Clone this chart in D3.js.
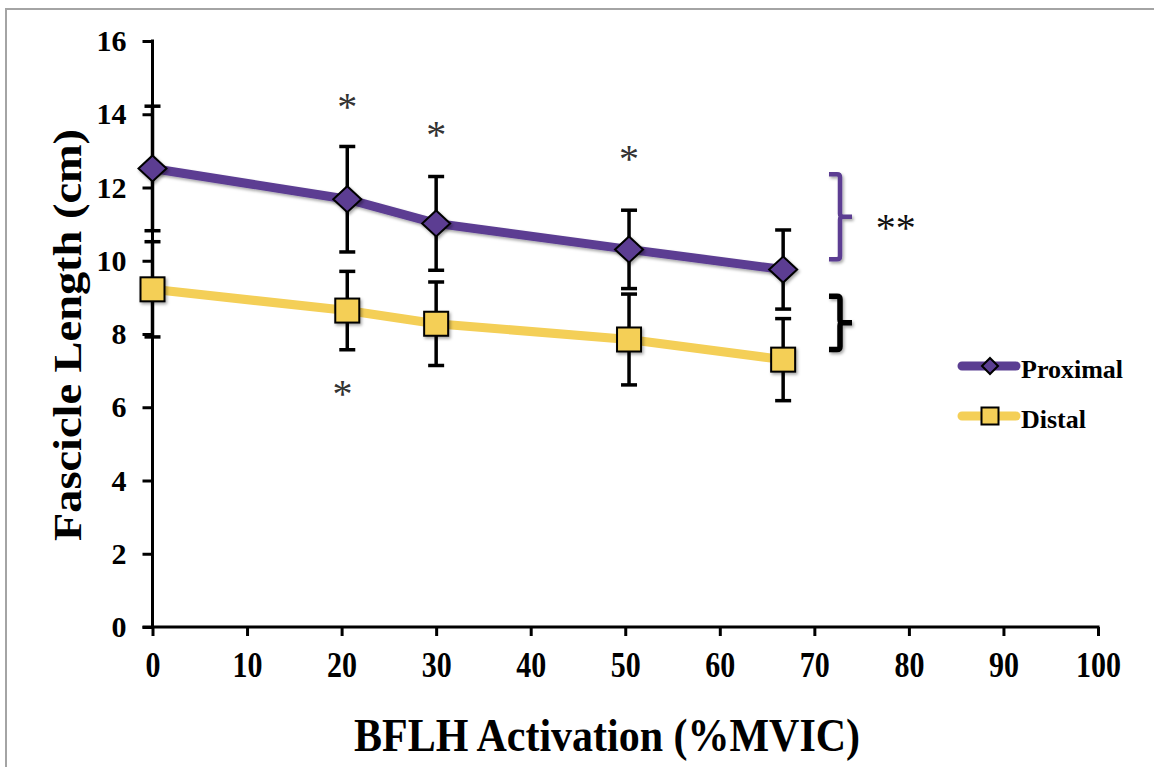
<!DOCTYPE html>
<html>
<head>
<meta charset="utf-8">
<script src="https://cdn.jsdelivr.net/npm/d3@7"></script>
<style>
  body { margin: 0; background: #fff; }
  text { font-family: "Liberation Serif", "Times New Roman", serif; }
</style>
</head>
<body>
<div id="chart"></div>
<script>
// values
var activation = [0, 20.6, 30, 50.4, 66.7];
var proximal = [12.52, 11.68, 11.02, 10.31, 9.76];
var proximalSD = [1.7, 1.44, 1.28, 1.07, 1.08];
var distal = [9.22, 8.64, 8.28, 7.85, 7.3];
var distalSD = [1.3, 1.07, 1.14, 1.24, 1.12];
var xTicks = [0, 10, 20, 30, 40, 50, 60, 70, 80, 90, 100];
var yTicks = [0, 2, 4, 6, 8, 10, 12, 14, 16];
var seriesNames = ["Proximal", "Distal"];
// single stars: [x, y] in data units
var starsX = [20.6, 30, 50.4, 20.1];
var starsY = [14.45, 13.68, 13.03, 6.62];
// braces: [top, bottom] in cm
var braceTop = [12.36, 9.03];
var braceBottom = [10.04, 7.58];

var W = 1154, H = 767;
var purple = "#5b3e92", yellow = "#f4cf57";

var svg = d3.select("#chart").append("svg")
    .attr("width", W)
    .attr("height", H);

var defs = svg.append("defs");
defs.append("filter").attr("id", "shadow")
    .attr("x", "-30%").attr("y", "-30%").attr("width", "160%").attr("height", "160%")
  .append("feDropShadow")
    .attr("dx", 1.5).attr("dy", 2).attr("stdDeviation", 1.5)
    .attr("flood-color", "#000").attr("flood-opacity", 0.35);

// outer frame
svg.append("rect")
    .attr("x", 6).attr("y", 9)
    .attr("width", W + 20).attr("height", H + 20)
    .attr("fill", "none")
    .attr("stroke", "#a4a4a4")
    .attr("stroke-width", 2);

var x = d3.scaleLinear().domain([0, 100]).range([152.5, 1098]);
var y = d3.scaleLinear().domain([0, 16]).range([627, 41]);

// y axis
var yAxis = svg.append("g")
    .attr("transform", "translate(" + x(0) + ",0)")
    .call(d3.axisLeft(y).tickValues(yTicks).tickSize(10).tickPadding(16).tickSizeOuter(0));
yAxis.select(".domain").remove();
yAxis.selectAll(".tick line").attr("stroke", "#000").attr("stroke-width", 3);
yAxis.selectAll(".tick text")
    .attr("font-size", 30).attr("font-weight", "bold").attr("fill", "#000")
    .attr("font-family", "Liberation Serif");
yAxis.append("line")
    .attr("x1", 0).attr("x2", 0)
    .attr("y1", y(16) - 1.5).attr("y2", y(0))
    .attr("stroke", "#000").attr("stroke-width", 3);

// x axis
var xAxis = svg.append("g")
    .attr("transform", "translate(0," + y(0) + ")")
    .call(d3.axisBottom(x).tickValues(xTicks).tickSize(9).tickSizeOuter(0));
xAxis.select(".domain").remove();
xAxis.selectAll(".tick line").attr("stroke", "#000").attr("stroke-width", 3);
xAxis.selectAll(".tick text")
    .attr("y", 42.5).attr("dy", 0)
    .attr("transform", "scale(1,1.18)")
    .attr("font-size", 30).attr("font-weight", "bold").attr("fill", "#000")
    .attr("font-family", "Liberation Serif");
xAxis.append("line")
    .attr("x1", x(0) - 10).attr("x2", x(100) + 1.5)
    .attr("y1", 0).attr("y2", 0)
    .attr("stroke", "#000").attr("stroke-width", 3);

// axis titles
svg.append("text")
    .attr("transform", "translate(607,751) scale(1,1.1)")
    .attr("text-anchor", "middle")
    .attr("font-size", 42).attr("font-weight", "bold")
    .text("BFLH Activation (%MVIC)");

svg.append("text")
    .attr("transform", "translate(81,335) rotate(-90) scale(1.16,1)")
    .attr("text-anchor", "middle")
    .attr("font-size", 40).attr("font-weight", "bold")
    .text("Fascicle Length (cm)");

var proxData = activation.map(function(a, i) { return {x: a, y: proximal[i], sd: proximalSD[i]}; });
var distData = activation.map(function(a, i) { return {x: a, y: distal[i], sd: distalSD[i]}; });

var line = d3.line()
    .x(function(d) { return x(d.x); })
    .y(function(d) { return y(d.y); });

svg.append("path").datum(distData)
    .attr("d", line)
    .attr("fill", "none").attr("stroke", yellow).attr("stroke-width", 9)
    .attr("stroke-linecap", "round");
svg.append("path").datum(proxData)
    .attr("d", line)
    .attr("fill", "none").attr("stroke", purple).attr("stroke-width", 9)
    .attr("stroke-linecap", "round")
    .attr("filter", "url(#shadow)");

// error bars
function errorBars(data) {
  var g = svg.append("g").attr("stroke", "#000").attr("stroke-width", 3.5);
  g.selectAll(".bar").data(data).enter().append("line")
      .attr("x1", function(d) { return x(d.x); })
      .attr("x2", function(d) { return x(d.x); })
      .attr("y1", function(d) { return y(d.y + d.sd); })
      .attr("y2", function(d) { return y(d.y - d.sd); });
  g.selectAll(".capTop").data(data).enter().append("line")
      .attr("x1", function(d) { return x(d.x) - 8; })
      .attr("x2", function(d) { return x(d.x) + 8; })
      .attr("y1", function(d) { return y(d.y + d.sd); })
      .attr("y2", function(d) { return y(d.y + d.sd); });
  g.selectAll(".capBot").data(data).enter().append("line")
      .attr("x1", function(d) { return x(d.x) - 8; })
      .attr("x2", function(d) { return x(d.x) + 8; })
      .attr("y1", function(d) { return y(d.y - d.sd); })
      .attr("y2", function(d) { return y(d.y - d.sd); });
}
errorBars(proxData);
errorBars(distData);

// markers
var diamond = "M0,-13L14,0L0,13L-14,0Z";
svg.selectAll(".prox").data(proxData).enter().append("path")
    .attr("class", "prox")
    .attr("transform", function(d) { return "translate(" + x(d.x) + "," + y(d.y) + ")"; })
    .attr("d", diamond)
    .attr("fill", purple).attr("stroke", "#000").attr("stroke-width", 2)
    .attr("filter", "url(#shadow)");

svg.selectAll(".dist").data(distData).enter().append("rect")
    .attr("class", "dist")
    .attr("x", function(d) { return x(d.x) - 12; })
    .attr("y", function(d) { return y(d.y) - 12; })
    .attr("width", 24).attr("height", 24)
    .attr("fill", yellow).attr("stroke", "#000").attr("stroke-width", 2)
    .attr("filter", "url(#shadow)");

// significance stars
svg.selectAll(".star").data(starsX).enter().append("text")
    .attr("x", function(d) { return x(d); })
    .attr("y", function(d, i) { return y(starsY[i]) + 22; })
    .attr("text-anchor", "middle")
    .attr("font-family", "Liberation Sans")
    .attr("font-size", 40)
    .attr("fill", "#333")
    .text("*");

// braces
var braceColors = [purple, "#000"];
braceTop.forEach(function(t, i) {
  var x0 = 829, xv = 840, xp = 852;
  var t0 = y(t), b0 = y(braceBottom[i]), m = (t0 + b0) / 2;
  var p = d3.path();
  p.moveTo(x0, t0);
  p.lineTo(xv - 3, t0);
  p.quadraticCurveTo(xv, t0, xv, t0 + 3);
  p.lineTo(xv, m - 3);
  p.quadraticCurveTo(xv, m, xv + 3, m);
  p.lineTo(xp, m);
  p.moveTo(xv + 3, m);
  p.quadraticCurveTo(xv, m, xv, m + 3);
  p.lineTo(xv, b0 - 3);
  p.quadraticCurveTo(xv, b0, xv - 3, b0);
  p.lineTo(x0, b0);
  svg.append("path")
      .attr("d", p.toString())
      .attr("fill", "none")
      .attr("stroke", braceColors[i])
      .attr("stroke-width", i === 0 ? 4.5 : 5.5)
      .attr("filter", "url(#shadow)");
});

svg.append("text")
    .attr("x", x(78.6)).attr("y", y(11.13) + 22)
    .attr("text-anchor", "middle")
    .attr("font-family", "Liberation Sans")
    .attr("font-size", 40)
    .attr("fill", "#111")
    .text("**");

// legend
var legendY = [366, 416];
var legendColors = [purple, yellow];
var leg = svg.append("g");
seriesNames.forEach(function(name, i) {
  leg.append("line")
      .attr("x1", 962).attr("x2", 1016)
      .attr("y1", legendY[i]).attr("y2", legendY[i])
      .attr("stroke", legendColors[i]).attr("stroke-width", 9)
      .attr("stroke-linecap", "round");
  if (i === 0) {
    leg.append("path")
        .attr("transform", "translate(990," + legendY[i] + ")")
        .attr("d", "M0,-8L8,0L0,8L-8,0Z")
        .attr("fill", purple).attr("stroke", "#000").attr("stroke-width", 2);
  } else {
    leg.append("rect")
        .attr("x", 981.5).attr("y", legendY[i] - 8.5)
        .attr("width", 17).attr("height", 17)
        .attr("fill", yellow).attr("stroke", "#000").attr("stroke-width", 2);
  }
  leg.append("text")
      .attr("x", 1021).attr("y", legendY[i] + 12)
      .attr("font-size", 26).attr("font-weight", "bold")
      .text(name);
});
</script>
</body>
</html>
